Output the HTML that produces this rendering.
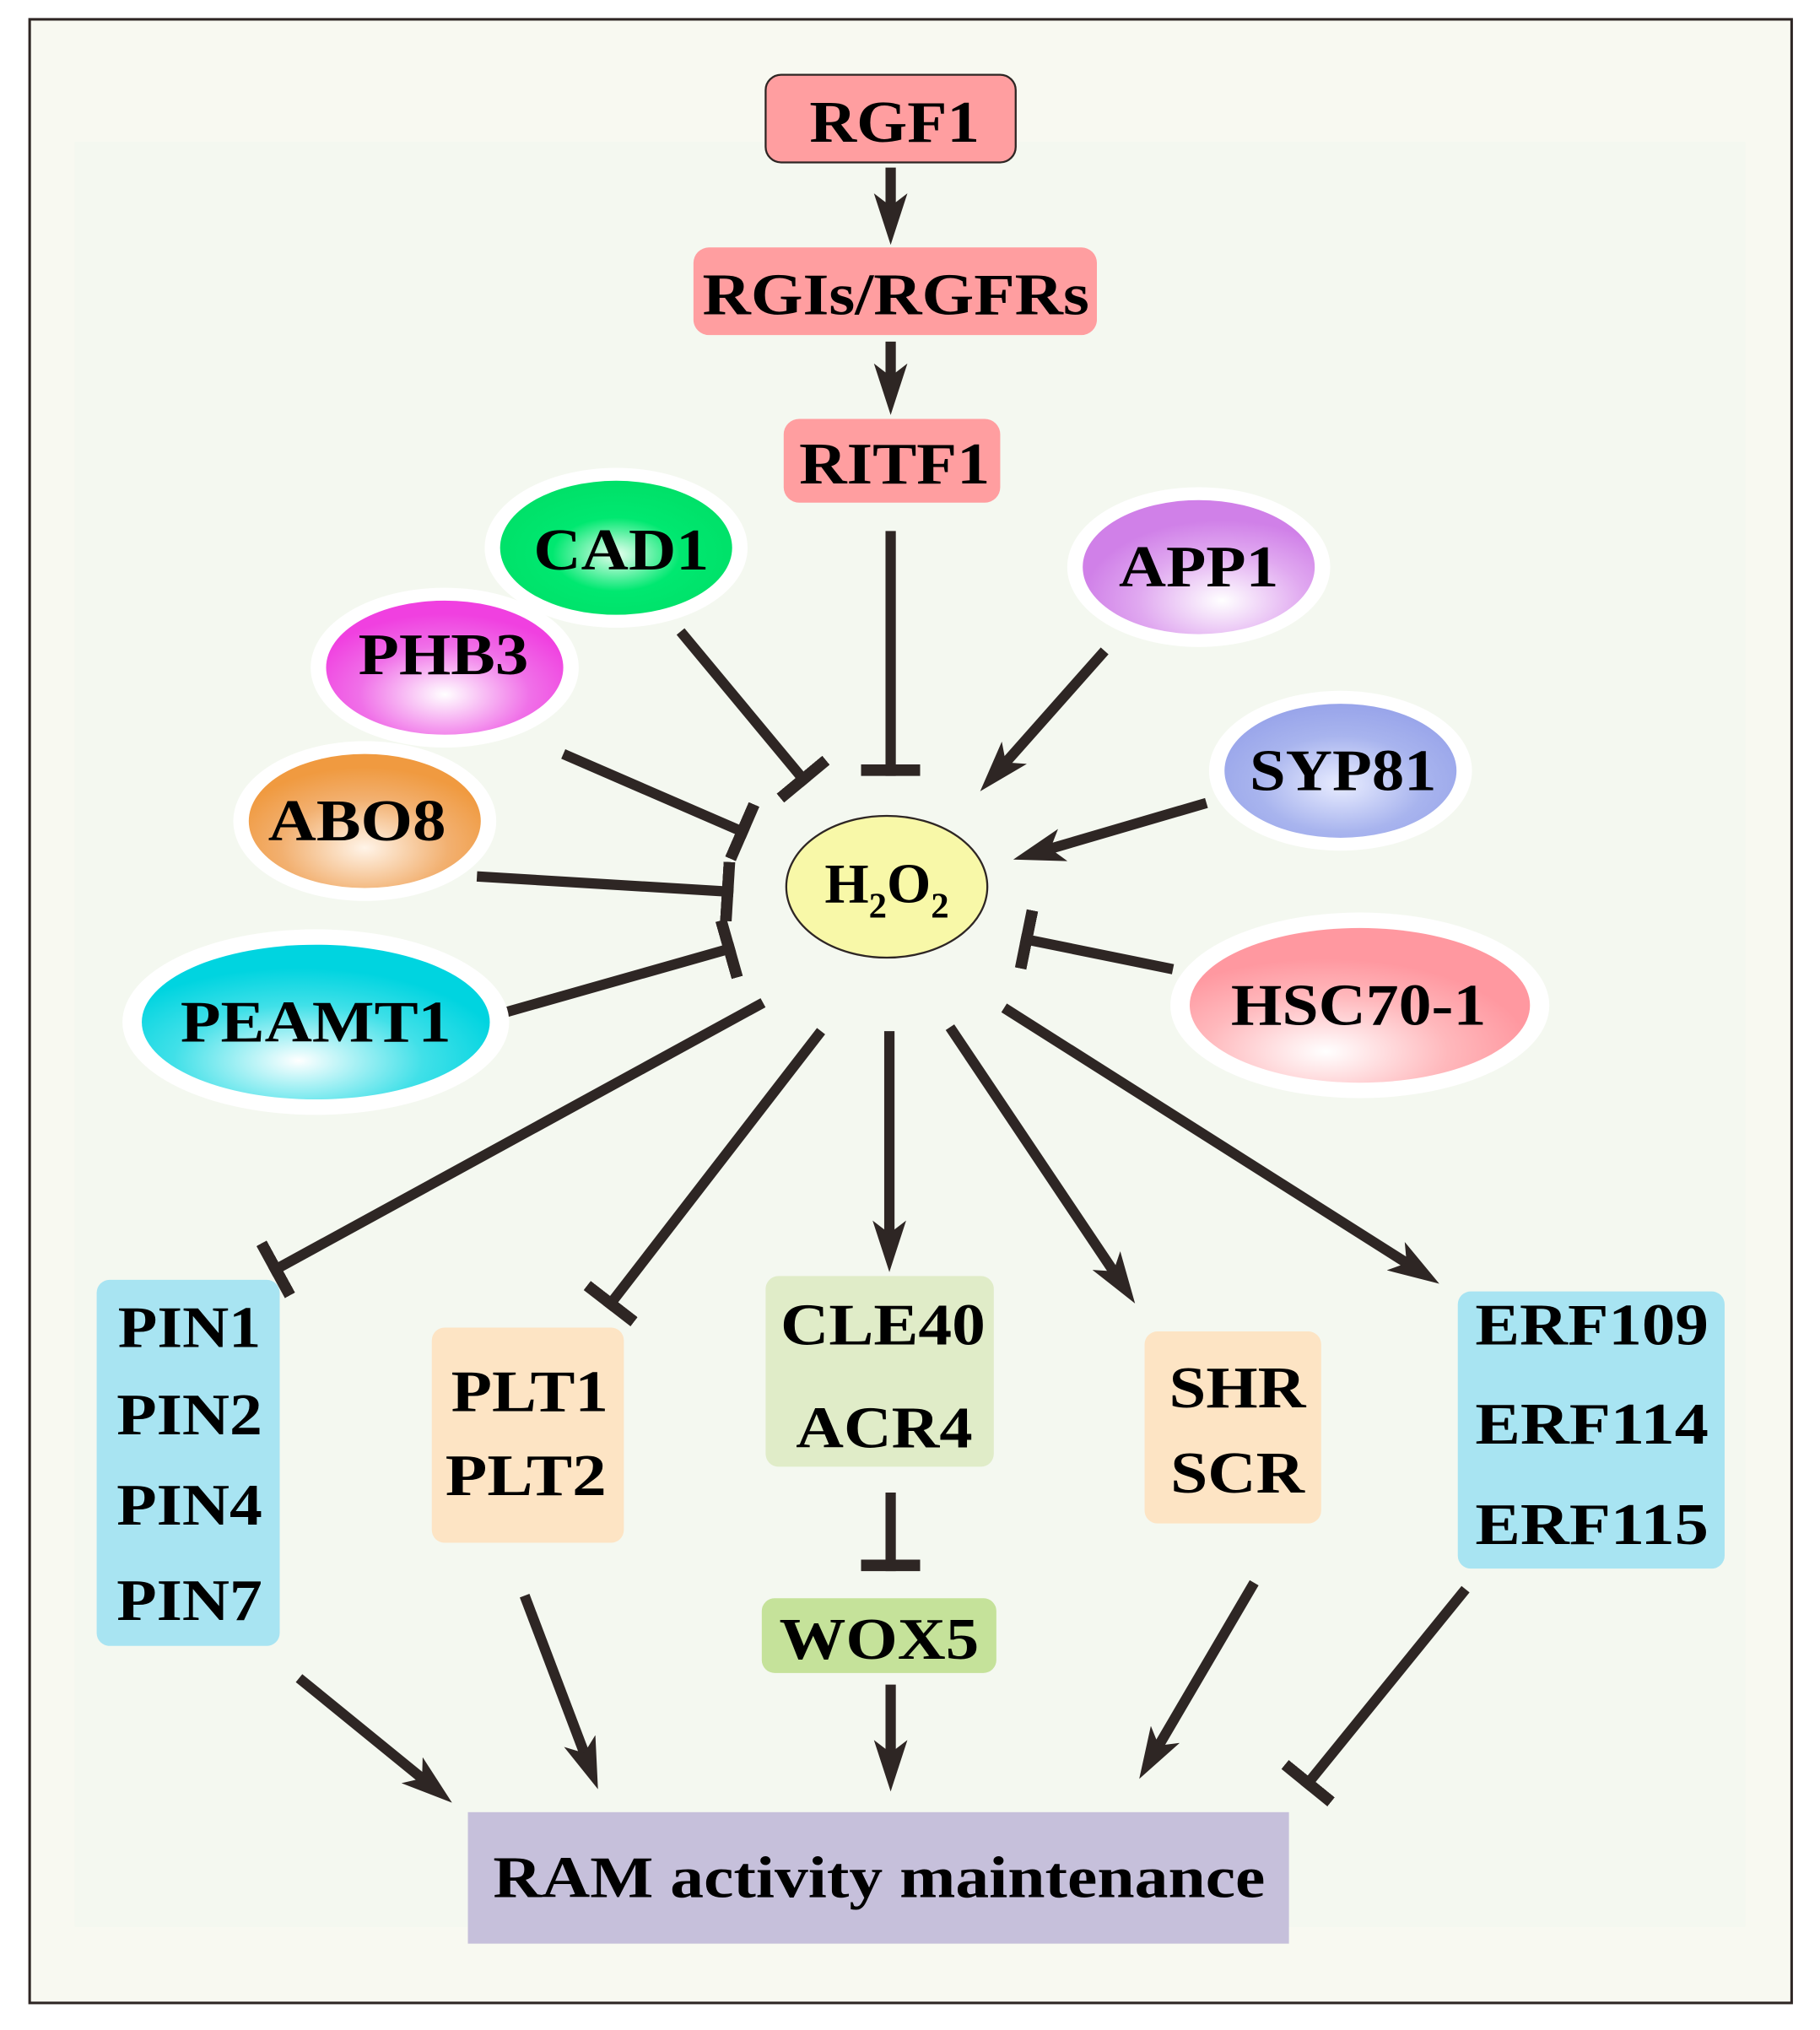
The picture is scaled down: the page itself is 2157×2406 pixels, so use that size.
<!DOCTYPE html>
<html><head><meta charset="utf-8"><style>
html,body{margin:0;padding:0;background:#fff;}
svg{display:block;}
text{font-family:"Liberation Serif",serif;font-weight:bold;fill:#000;text-anchor:middle;}
</style></head><body>
<svg width="2157" height="2406" viewBox="0 0 1412 1575" xmlns="http://www.w3.org/2000/svg">
<defs>
<marker id="ar" markerUnits="userSpaceOnUse" markerWidth="40" markerHeight="26" refX="12" refY="13" orient="auto" viewBox="0 0 40 26">
<path d="M0,0 L40,13 L0,26 L10,13 z" fill="#2e2624"/></marker>
<marker id="tb" markerUnits="userSpaceOnUse" markerWidth="10" markerHeight="46" refX="9" refY="23" orient="auto" viewBox="0 0 10 46">
<rect x="0" y="0" width="9" height="46" fill="#2e2624"/></marker>
<radialGradient id="gCAD" cx="50%" cy="55%" r="55%"><stop offset="0" stop-color="#e8fff0"/><stop offset="0.5" stop-color="#00e870"/><stop offset="1" stop-color="#00e068"/></radialGradient>
<radialGradient id="gPHB" cx="50%" cy="70%" r="60%"><stop offset="0" stop-color="#ffffff"/><stop offset="0.6" stop-color="#f070e8"/><stop offset="1" stop-color="#f040e0"/></radialGradient>
<radialGradient id="gABO" cx="50%" cy="70%" r="60%"><stop offset="0" stop-color="#fff4e8"/><stop offset="0.6" stop-color="#f2b070"/><stop offset="1" stop-color="#f09a40"/></radialGradient>
<radialGradient id="gPEA" cx="45%" cy="75%" r="60%"><stop offset="0" stop-color="#ffffff"/><stop offset="0.6" stop-color="#40e0e8"/><stop offset="1" stop-color="#00d4e0"/></radialGradient>
<radialGradient id="gAPP" cx="60%" cy="75%" r="60%"><stop offset="0" stop-color="#ffffff"/><stop offset="0.6" stop-color="#e0a8f0"/><stop offset="1" stop-color="#d080e8"/></radialGradient>
<radialGradient id="gSYP" cx="50%" cy="60%" r="60%"><stop offset="0" stop-color="#e8ecff"/><stop offset="0.6" stop-color="#a8b4ee"/><stop offset="1" stop-color="#98a4ea"/></radialGradient>
<radialGradient id="gHSC" cx="40%" cy="80%" r="60%"><stop offset="0" stop-color="#ffffff"/><stop offset="0.6" stop-color="#ffb8bc"/><stop offset="1" stop-color="#ff98a0"/></radialGradient>
</defs>
<rect x="0" y="0" width="1412" height="1575" fill="#fff"/>
<rect x="23" y="15" width="1367" height="1539" fill="#f8f9f1" stroke="#2e2624" stroke-width="2"/>
<rect x="58" y="110" width="1296" height="1385" fill="#f4f8f0"/>

<g stroke="#2e2624" stroke-width="8" fill="none">
<line x1="691" y1="130" x2="691" y2="162" marker-end="url(#ar)"/>
<line x1="691" y1="265" x2="691" y2="294" marker-end="url(#ar)"/>
<line x1="691" y1="412" x2="691" y2="602" marker-end="url(#tb)"/>
<line x1="528" y1="490" x2="626" y2="608" marker-end="url(#tb)"/>
<line x1="437" y1="585" x2="580" y2="647" marker-end="url(#tb)"/>
<line x1="370" y1="680" x2="569" y2="692" marker-end="url(#tb)"/>
<line x1="390" y1="786" x2="570" y2="735" marker-end="url(#tb)"/>
<line x1="857" y1="505" x2="779" y2="593" marker-end="url(#ar)"/>
<line x1="936" y1="623" x2="813" y2="659" marker-end="url(#ar)"/>
<line x1="910" y1="752" x2="792" y2="728" marker-end="url(#tb)"/>
<line x1="592" y1="778" x2="210" y2="987" marker-end="url(#tb)"/>
<line x1="637" y1="800" x2="471" y2="1015" marker-end="url(#tb)"/>
<line x1="690" y1="800" x2="690" y2="959" marker-end="url(#ar)"/>
<line x1="737" y1="797" x2="865" y2="988" marker-end="url(#ar)"/>
<line x1="779" y1="782" x2="1093" y2="981" marker-end="url(#ar)"/>
<line x1="691" y1="1158" x2="691" y2="1219" marker-end="url(#tb)"/>
<line x1="691" y1="1307" x2="691" y2="1362" marker-end="url(#ar)"/>
<line x1="232" y1="1302" x2="329" y2="1381" marker-end="url(#ar)"/>
<line x1="407" y1="1238" x2="454" y2="1362" marker-end="url(#ar)"/>
<line x1="973" y1="1228" x2="898" y2="1356" marker-end="url(#ar)"/>
<line x1="1137" y1="1233" x2="1012" y2="1387" marker-end="url(#tb)"/>
</g>

<rect x="594" y="58" width="194" height="68" rx="12" fill="#ff9ea0" stroke="#2e2624" stroke-width="1.5"/>
<text x="694" y="110" font-size="46" textLength="132" lengthAdjust="spacingAndGlyphs">RGF1</text>
<rect x="538" y="192" width="313" height="68" rx="12" fill="#ff9ea0"/>
<text x="695" y="244" font-size="46" textLength="300" lengthAdjust="spacingAndGlyphs">RGIs/RGFRs</text>
<rect x="608" y="325" width="168" height="65" rx="12" fill="#ff9ea0"/>
<text x="694" y="375" font-size="46" textLength="148" lengthAdjust="spacingAndGlyphs">RITF1</text>

<ellipse cx="688" cy="688" rx="78" ry="55" fill="#f8f8a8" stroke="#2e2624" stroke-width="1.5"/>
<text x="688" y="700" font-size="44">H<tspan font-size="28" dy="12">2</tspan><tspan dy="-12">O</tspan><tspan font-size="28" dy="12">2</tspan></text>

<ellipse cx="478" cy="425" rx="102" ry="62" fill="#fff"/>
<ellipse cx="478" cy="425" rx="90" ry="52" fill="url(#gCAD)"/>
<text x="482" y="442" font-size="46" textLength="136" lengthAdjust="spacingAndGlyphs">CAD1</text>
<ellipse cx="345" cy="518" rx="104" ry="62" fill="#fff"/>
<ellipse cx="345" cy="518" rx="92" ry="52" fill="url(#gPHB)"/>
<text x="344" y="523" font-size="46" textLength="132" lengthAdjust="spacingAndGlyphs">PHB3</text>
<ellipse cx="283" cy="637" rx="102" ry="62" fill="#fff"/>
<ellipse cx="283" cy="637" rx="90" ry="52" fill="url(#gABO)"/>
<text x="277" y="652" font-size="46" textLength="138" lengthAdjust="spacingAndGlyphs">ABO8</text>
<ellipse cx="245" cy="793" rx="150" ry="72" fill="#fff"/>
<ellipse cx="245" cy="793" rx="135" ry="60" fill="url(#gPEA)"/>
<text x="245" y="808" font-size="46" textLength="210" lengthAdjust="spacingAndGlyphs">PEAMT1</text>
<ellipse cx="930" cy="440" rx="102" ry="62" fill="#fff"/>
<ellipse cx="930" cy="440" rx="90" ry="52" fill="url(#gAPP)"/>
<text x="930" y="455" font-size="46" textLength="124" lengthAdjust="spacingAndGlyphs">APP1</text>
<ellipse cx="1040" cy="598" rx="102" ry="62" fill="#fff"/>
<ellipse cx="1040" cy="598" rx="90" ry="52" fill="url(#gSYP)"/>
<text x="1042" y="613" font-size="46" textLength="145" lengthAdjust="spacingAndGlyphs">SYP81</text>
<ellipse cx="1055" cy="780" rx="147" ry="72" fill="#fff"/>
<ellipse cx="1055" cy="780" rx="132" ry="60" fill="url(#gHSC)"/>
<text x="1054" y="795" font-size="46" textLength="198" lengthAdjust="spacingAndGlyphs">HSC70-1</text>

<rect x="75" y="993" width="142" height="284" rx="10" fill="#a8e4f2"/>
<g font-size="46">
<text x="147" y="1045" textLength="111" lengthAdjust="spacingAndGlyphs">PIN1</text>
<text x="147" y="1113" textLength="113" lengthAdjust="spacingAndGlyphs">PIN2</text>
<text x="147" y="1183" textLength="113" lengthAdjust="spacingAndGlyphs">PIN4</text>
<text x="147" y="1257" textLength="113" lengthAdjust="spacingAndGlyphs">PIN7</text>
</g>

<rect x="335" y="1030" width="149" height="167" rx="10" fill="#fde4c4"/>
<text x="411" y="1095" font-size="46" textLength="122" lengthAdjust="spacingAndGlyphs">PLT1</text>
<text x="408" y="1160" font-size="46" textLength="125" lengthAdjust="spacingAndGlyphs">PLT2</text>

<rect x="594" y="990" width="177" height="148" rx="10" fill="#e0ecc8"/>
<text x="685" y="1043" font-size="46" textLength="159" lengthAdjust="spacingAndGlyphs">CLE40</text>
<text x="686" y="1123" font-size="46" textLength="137" lengthAdjust="spacingAndGlyphs">ACR4</text>

<rect x="591" y="1240" width="182" height="58" rx="10" fill="#c5e29a"/>
<text x="682" y="1287" font-size="46" textLength="155" lengthAdjust="spacingAndGlyphs">WOX5</text>

<rect x="888" y="1033" width="137" height="149" rx="10" fill="#fde4c4"/>
<text x="960" y="1092" font-size="46" textLength="106" lengthAdjust="spacingAndGlyphs">SHR</text>
<text x="960" y="1158" font-size="46" textLength="104" lengthAdjust="spacingAndGlyphs">SCR</text>

<rect x="1131" y="1002" width="207" height="215" rx="10" fill="#a8e4f2"/>
<text x="1235" y="1043" font-size="46" textLength="181" lengthAdjust="spacingAndGlyphs">ERF109</text>
<text x="1235" y="1120" font-size="46" textLength="181" lengthAdjust="spacingAndGlyphs">ERF114</text>
<text x="1235" y="1198" font-size="46" textLength="181" lengthAdjust="spacingAndGlyphs">ERF115</text>

<rect x="363" y="1406" width="637" height="102" fill="#c6c0db"/>
<text x="682" y="1472" font-size="46" textLength="599" lengthAdjust="spacingAndGlyphs">RAM activity maintenance</text>
</svg>
</body></html>
